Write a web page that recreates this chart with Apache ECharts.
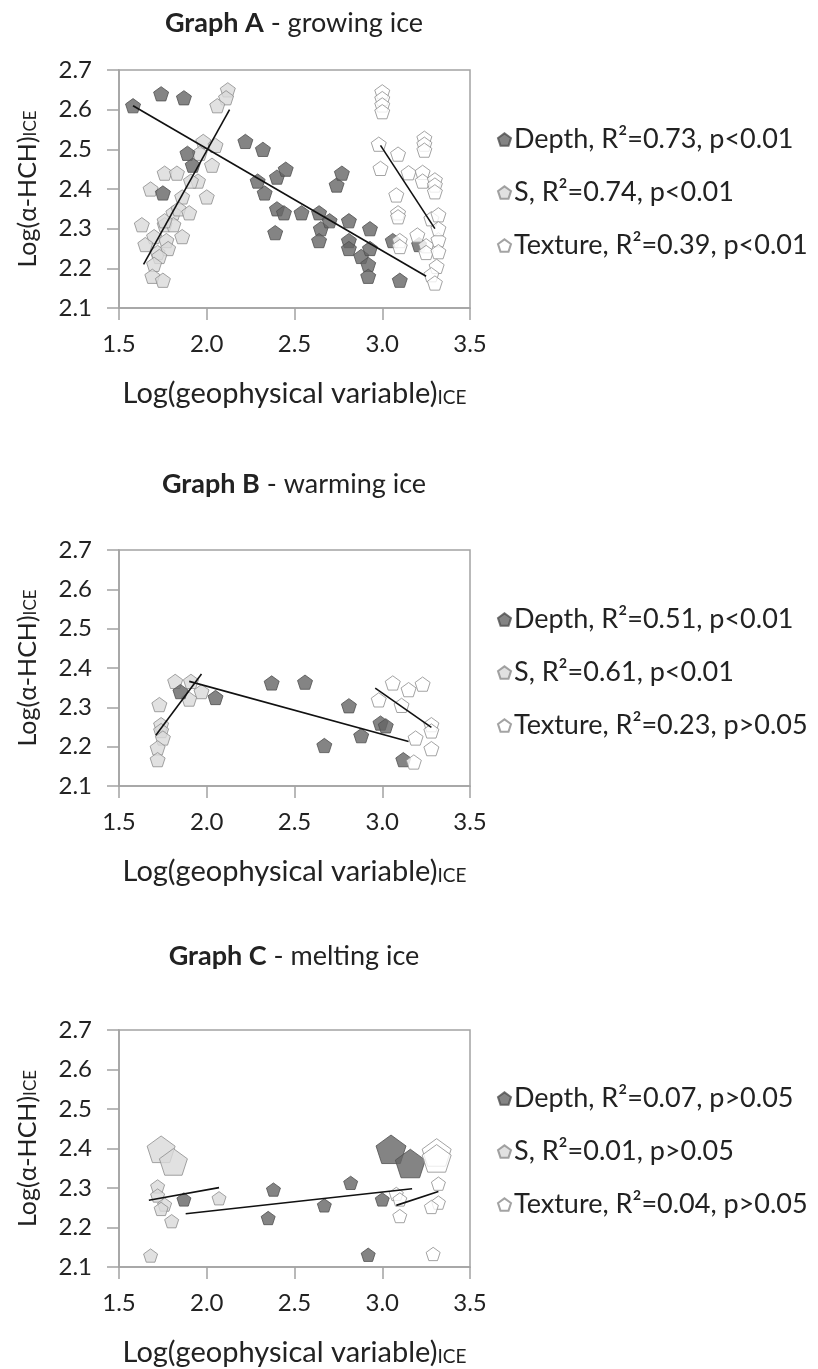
<!DOCTYPE html>
<html>
<head>
<meta charset="utf-8">
<script src="https://cdn.jsdelivr.net/npm/echarts@6/dist/echarts.min.js"></script>
<style>
  html, body { margin: 0; padding: 0; background: #ffffff; }
  #chart { width: 818px; height: 1369px; }
</style>
</head>
<body>
<div id="chart"></div>
<script>
// ---------- DATA ----------
const panelTitles = [['Graph A', ' - growing ice'], ['Graph B', ' - warming ice'], ['Graph C', ' - melting ice']];
const xTicks = [1.5, 2.0, 2.5, 3.0, 3.5];
const yTicks = [2.1, 2.2, 2.3, 2.4, 2.5, 2.6, 2.7];

const legendA = ['Depth, R²=0.73, p<0.01', 'S, R²=0.74, p<0.01', 'Texture, R²=0.39, p<0.01'];
const legendB = ['Depth, R²=0.51, p<0.01', 'S, R²=0.61, p<0.01', 'Texture, R²=0.23, p>0.05'];
const legendC = ['Depth, R²=0.07, p>0.05', 'S, R²=0.01, p>0.05', 'Texture, R²=0.04, p>0.05'];

// Graph A - growing ice
const A_depth = [
  [1.58, 2.61], [1.74, 2.64], [1.87, 2.63], [1.75, 2.39], [1.89, 2.49], [1.92, 2.46],
  [2.22, 2.52], [2.32, 2.50], [2.29, 2.42], [2.33, 2.39], [2.40, 2.43], [2.45, 2.45],
  [2.40, 2.35], [2.44, 2.34], [2.39, 2.29], [2.54, 2.34], [2.64, 2.34], [2.65, 2.30],
  [2.64, 2.27], [2.70, 2.32], [2.74, 2.41], [2.77, 2.44], [2.81, 2.32], [2.81, 2.27],
  [2.81, 2.25], [2.88, 2.23], [2.93, 2.30], [2.93, 2.25], [2.92, 2.21], [2.92, 2.18],
  [3.10, 2.17], [3.06, 2.27], [3.21, 2.26]
];
const A_sal = [
  [2.12, 2.65], [2.11, 2.63], [2.06, 2.61], [1.98, 2.52], [2.05, 2.51], [1.96, 2.49],
  [2.03, 2.46], [1.95, 2.42], [1.91, 2.42], [2.00, 2.38], [1.76, 2.44], [1.83, 2.44],
  [1.68, 2.40], [1.86, 2.38], [1.81, 2.34], [1.84, 2.35], [1.90, 2.34], [1.76, 2.31],
  [1.81, 2.31], [1.86, 2.28], [1.63, 2.31], [1.70, 2.28], [1.77, 2.27], [1.65, 2.26],
  [1.72, 2.24], [1.78, 2.25], [1.73, 2.23], [1.70, 2.21], [1.69, 2.18], [1.75, 2.17],
  [1.76, 2.32]
];
const A_tex = [
  [3.00, 2.645], [3.00, 2.628], [3.00, 2.612], [3.00, 2.595], [2.98, 2.513], [2.99, 2.452],
  [3.09, 2.488], [3.15, 2.441], [3.08, 2.385], [3.09, 2.34], [3.09, 2.33], [3.10, 2.27],
  [3.10, 2.255], [3.24, 2.528], [3.24, 2.513], [3.24, 2.498], [3.23, 2.442], [3.23, 2.42],
  [3.30, 2.423], [3.30, 2.41], [3.30, 2.393], [3.28, 2.325], [3.32, 2.335], [3.20, 2.284],
  [3.25, 2.257], [3.25, 2.24], [3.32, 2.272], [3.32, 2.242], [3.31, 2.205], [3.28, 2.184],
  [3.30, 2.163], [3.32, 2.30]
];
const A_fitDepth = [[1.58, 2.61], [3.25, 2.18]];
const A_fitSal = [[1.64, 2.21], [2.13, 2.60]];
const A_fitTex = [[2.99, 2.51], [3.30, 2.30]];

// Graph B - warming ice
const B_depth = [
  [1.85, 2.34], [2.05, 2.325], [2.37, 2.362], [2.56, 2.364], [2.81, 2.304], [2.67, 2.203],
  [2.88, 2.228], [2.99, 2.26], [3.02, 2.253], [3.12, 2.167]
];
const B_sal = [
  [1.82, 2.366], [1.91, 2.366], [1.97, 2.34], [1.90, 2.321], [1.73, 2.307], [1.74, 2.256],
  [1.74, 2.241], [1.75, 2.222], [1.72, 2.197], [1.72, 2.167]
];
const B_tex = [
  [3.06, 2.362], [3.15, 2.345], [3.23, 2.359], [2.98, 2.319], [3.11, 2.305], [3.28, 2.256],
  [3.28, 2.24], [3.19, 2.222], [3.28, 2.195], [3.18, 2.161]
];
const B_fitDepth = [[1.90, 2.366], [3.15, 2.213]];
const B_fitSal = [[1.71, 2.229], [1.97, 2.385]];
const B_fitTex = [[2.96, 2.349], [3.28, 2.249]];

// Graph C - melting ice
const C_depth = [
  [1.87, 2.271], [2.38, 2.296], [2.35, 2.224], [2.82, 2.313], [2.67, 2.256], [3.00, 2.271],
  [2.92, 2.131]
];
const C_depthLarge = [[3.05, 2.398], [3.16, 2.362]];
const C_sal = [
  [1.72, 2.304], [1.72, 2.281], [1.76, 2.258], [1.74, 2.247], [1.80, 2.216], [2.07, 2.274],
  [1.68, 2.129]
];
const C_salLarge = [[1.74, 2.398], [1.81, 2.366]];
const C_tex = [
  [3.32, 2.311], [3.32, 2.263], [3.28, 2.252], [3.08, 2.285], [3.10, 2.271], [3.10, 2.229],
  [3.29, 2.133]
];
const C_texLarge = [[3.31, 2.39], [3.31, 2.375]];
const C_fitDepth = [[1.88, 2.235], [3.17, 2.298]];
const C_fitSal = [[1.67, 2.269], [2.07, 2.301]];
const C_fitTex = [[3.08, 2.256], [3.32, 2.291]];

// ---------- CHART ----------
const FONT = 'Lato, "Open Sans", sans-serif';
const TEXT = '#222222';
const AXIS = '#a3a3a3';
const PENT = 'path://M0,-10 L9.51,-3.09 L5.88,8.09 L-5.88,8.09 L-9.51,-3.09 Z';

const styles = {
  depth: { color: '#656565', borderColor: '#505050', borderWidth: 1 },
  sal: { color: '#d9d9d9', borderColor: '#8c8c8c', borderWidth: 1 },
  tex: { color: '#ffffff', borderColor: '#8c8c8c', borderWidth: 1 }
};

const grids = [
  { left: 119, top: 70, width: 351, height: 238 },
  { left: 119, top: 550, width: 351, height: 236 },
  { left: 119, top: 1030, width: 351, height: 237 }
];
const legendTops = [121, 601, 1080];
const titleTops = [5, 466, 938];

const panels = [
  { legend: legendA, depth: A_depth, sal: A_sal, tex: A_tex, fits: [A_fitDepth, A_fitSal, A_fitTex], size: 15 },
  { legend: legendB, depth: B_depth, sal: B_sal, tex: B_tex, fits: [B_fitDepth, B_fitSal, B_fitTex], size: 15 },
  { legend: legendC, depth: C_depth, sal: C_sal, tex: C_tex, fits: [C_fitDepth, C_fitSal, C_fitTex], size: 14,
    large: { depth: C_depthLarge, sal: C_salLarge, tex: C_texLarge } }
];

const axisLineStyle = { color: AXIS, width: 1.5 };

const option = {
  backgroundColor: '#ffffff',
  animation: false,
  title: [],
  grid: [],
  xAxis: [],
  yAxis: [],
  legend: [],
  series: []
};

panels.forEach((p, i) => {
  option.grid.push(Object.assign({ show: true, borderColor: AXIS, borderWidth: 1.5, containLabel: false }, grids[i]));
  option.title.push({
    text: '{b|' + panelTitles[i][0] + '}{n|' + panelTitles[i][1] + '}',
    left: 289, top: titleTops[i], textAlign: 'center',
    textStyle: {
      rich: {
        b: { fontFamily: FONT, fontSize: 27, fontWeight: 'bold', color: TEXT },
        n: { fontFamily: FONT, fontSize: 27, fontWeight: 'normal', color: TEXT }
      }
    }
  });
  option.xAxis.push({
    gridIndex: i, type: 'value', min: 1.5, max: 3.5, interval: 0.5,
    axisLine: { show: true, onZero: false, lineStyle: axisLineStyle },
    axisTick: { show: true, inside: false, length: 12, lineStyle: axisLineStyle },
    splitLine: { show: false },
    axisLabel: { margin: 24, fontFamily: FONT, fontSize: 24, color: TEXT, formatter: v => v.toFixed(1) },
    name: '{m|Log(geophysical variable)}{s|ICE}',
    nameLocation: 'middle', nameGap: 71,
    nameTextStyle: {
      rich: {
        m: { fontFamily: FONT, fontSize: 29, color: TEXT },
        s: { fontFamily: FONT, fontSize: 19, color: TEXT, padding: [9, 0, 0, 0] }
      }
    }
  });
  option.yAxis.push({
    gridIndex: i, type: 'value', min: 2.1, max: 2.7, interval: 0.1,
    axisLine: { show: true, onZero: false, lineStyle: axisLineStyle },
    axisTick: { show: true, inside: false, length: 12, lineStyle: axisLineStyle },
    splitLine: { show: false },
    axisLabel: { margin: 27, fontFamily: FONT, fontSize: 24, color: TEXT, formatter: v => v.toFixed(1) },
    name: '{m|Log(α-HCH)}{s|ICE}',
    nameLocation: 'middle', nameGap: 79, nameRotate: 90,
    nameTextStyle: {
      rich: {
        m: { fontFamily: FONT, fontSize: 25, color: TEXT },
        s: { fontFamily: FONT, fontSize: 17, color: TEXT, padding: [7, 0, 0, 0] }
      }
    }
  });
  option.legend.push({
    data: p.legend.map(n => ({ name: n, icon: PENT })),
    orient: 'vertical', left: 492, top: legendTops[i],
    itemGap: 26, itemWidth: 13, itemHeight: 13,
    selectedMode: false,
    textStyle: { fontFamily: FONT, fontSize: 27, color: TEXT, padding: [0, 0, 0, -2] }
  });

  const mk = (name, data, style, size, z) => ({
    name: name, type: 'scatter', xAxisIndex: i, yAxisIndex: i,
    symbol: PENT, symbolSize: size, symbolKeepAspect: true,
    itemStyle: style, data: data, z: z
  });
  // draw order: S, Depth, Texture (white on top)
  option.series.push(mk(p.legend[1], p.sal, styles.sal, p.size, 2));
  if (p.large) option.series.push(mk(p.legend[1] + ' (large)', p.large.sal, styles.sal, 28, 2));
  option.series.push(mk(p.legend[0], p.depth, styles.depth, p.size, 3));
  if (p.large) option.series.push(mk(p.legend[0] + ' (large)', p.large.depth, styles.depth, 30, 3));
  option.series.push(mk(p.legend[2], p.tex, styles.tex, p.size, 4));
  if (p.large) option.series.push(mk(p.legend[2] + ' (large)', p.large.tex, styles.tex, 29, 4));

  p.fits.forEach(f => {
    option.series.push({
      type: 'line', xAxisIndex: i, yAxisIndex: i, data: f,
      showSymbol: false, symbol: 'none', silent: true, z: 5,
      lineStyle: { color: '#111111', width: 1.6 }
    });
  });
});

const chart = echarts.init(document.getElementById('chart'), null, { renderer: 'canvas' });
chart.setOption(option);
</script>
</body>
</html>
